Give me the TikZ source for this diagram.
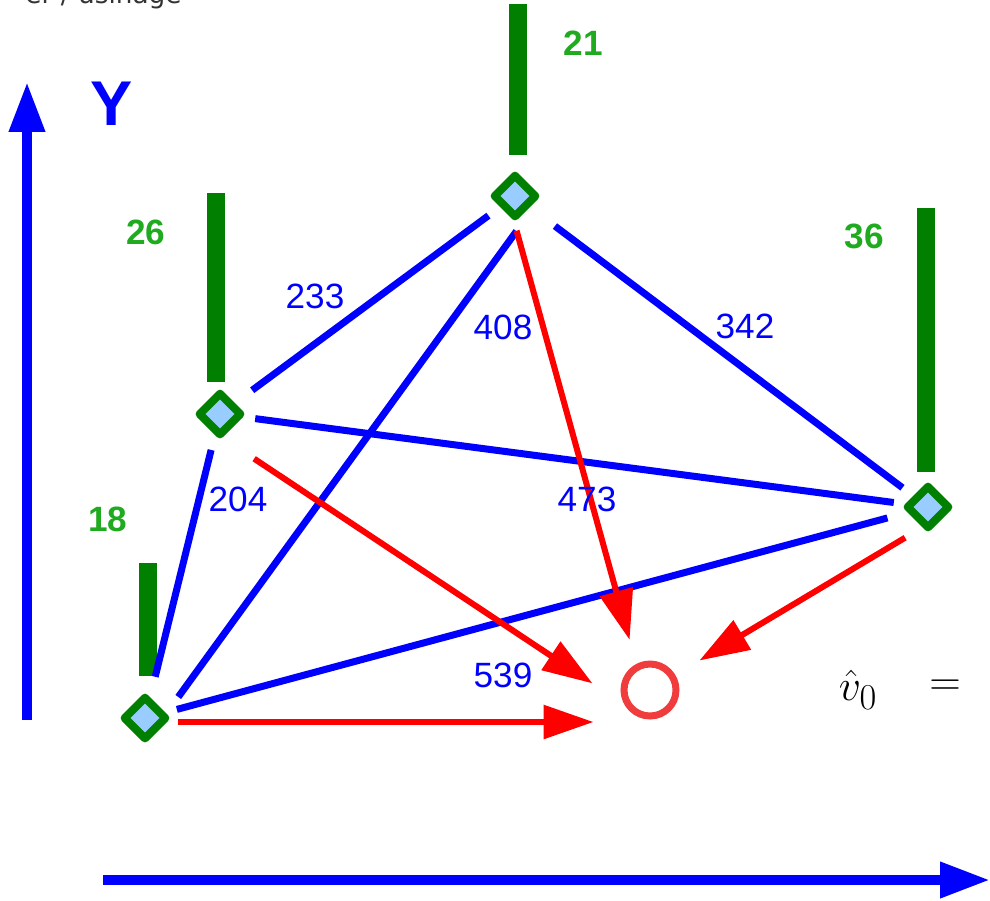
\documentclass[tikz,border=0pt]{standalone}
\usepackage{fontspec}
\setmainfont{Liberation Sans}
\newfontfamily\topfont{DejaVu Sans}
\usetikzlibrary{arrows.meta,shapes.geometric,calc}
\definecolor{eblue}{HTML}{0000FF}
\definecolor{gcol}{HTML}{007F00}
\definecolor{lgreen}{HTML}{1FAA1F}
\definecolor{lblue}{HTML}{99CCFF}
\definecolor{tred}{HTML}{F03C3C}
\definecolor{rline}{HTML}{FF0000}
\begin{document}
\begin{tikzpicture}[x=0.02cm,y=-0.02cm,
  vtx/.style={diamond, draw=gcol, fill=lblue, line width=0.16cm, minimum width=0.88cm, minimum height=0.88cm, inner sep=0pt, line join=round},
  link/.style={draw=eblue, line width=0.14cm},
  redarr/.style={draw=rline, line width=0.12cm, -{Triangle[length=1.0cm,width=0.66cm]}},
  axis/.style={draw=eblue, line width=0.2cm, -{Triangle[length=1.0cm,width=0.68cm]}},
  num/.style={text=eblue, font=\fontsize{20}{24}\selectfont},
  wt/.style={text=lgreen, font=\bfseries\fontsize{20}{24}\selectfont},
  wbar/.style={fill=gcol}
]
\useasboundingbox (0,0) rectangle (990,900);
% partial caption at top (cut off by the top edge, as in the reference)
\node[anchor=base east, text=black!80, font=\topfont\fontsize{15}{18}\selectfont, inner sep=0pt] (cap) at (182,3) {er / usinage};
% axes
\coordinate (yb) at (27,720);
\coordinate (yt) at (27,82);
\draw[axis] (yb) -- (yt);
\node[text=eblue, font=\bfseries\fontsize{36}{42}\selectfont] (ylab) at (112,104) {Y};
\coordinate (xl) at (103,880);
\coordinate (xr) at (990,880);
\draw[axis] (xl) -- (xr);
% weight bars
\fill[wbar] (139,563) rectangle (157,676);
\fill[wbar] (207,193) rectangle (225,382);
\fill[wbar] (509,4) rectangle (527,155);
\fill[wbar] (917,208) rectangle (935,472);
% weights
\node[wt] (w18) at (108,519) {18};
\node[wt] (w26) at (146,232) {26};
\node[wt] (w21) at (583,43) {21};
\node[wt] (w36) at (864,236) {36};
% target
\node[circle, draw=tred, line width=0.14cm, minimum size=1.04cm, inner sep=0pt] (T) at (650,690) {};
% vertices
\node[vtx] (A) at (145,718) {};
\node[vtx] (B) at (220,414) {};
\node[vtx] (C) at (515,196) {};
\node[vtx] (D) at (928,507) {};
% blue edges
\draw[link, shorten <=0.85cm, shorten >=0.74cm] (A.center) -- (B.center);
\coordinate (a3) at ($(A.center)+(18,0)$);
\coordinate (c3) at ($(C.center)+(27,0)$);
\draw[link, shorten <=0.52cm, shorten >=0.87cm] (a3) -- (c3);
\draw[link, shorten <=0.66cm, shorten >=0.84cm] (A.center) -- (D.center);
\draw[link, shorten <=0.80cm, shorten >=0.66cm] (B.center) -- (C.center);
\draw[link, shorten <=0.71cm, shorten >=0.69cm] (B.center) -- (D.center);
\draw[link, shorten <=1.00cm, shorten >=0.64cm] (C.center) -- (D.center);
% red arrows
\coordinate (a2) at ($(A.center)+(0,4)$);
\draw[redarr, shorten <=0.66cm, shorten >=0.54cm] (a2) -- (a2 -| T.west);
\coordinate (b2) at ($(B.center)+(0,22)$);
\coordinate (tb) at ($(T.center)+(-40,5)$);
\draw[redarr, shorten <=0.82cm, shorten >=0.42cm] (b2) -- (tb);
\coordinate (c2) at ($(C.center)+(-8,0)$);
\coordinate (tc) at ($(T.center)+(-14,-27)$);
\draw[redarr, shorten <=0.72cm, shorten >=0.48cm] (c2) -- (tc);
\coordinate (d2) at ($(D.center)+(-10,23)$);
\draw[redarr, shorten <=0.30cm, shorten >=1.15cm] (d2) -- (T.center);
% edge labels
\node[num] (l204) at (238,499) {204};
\node[num] (l408) at (503,327) {408};
\node[num] (l539) at (503,675) {539};
\node[num] (l233) at (315,296) {233};
\node[num] (l473) at (587,499) {473};
\node[num] (l342) at (745,326) {342};
% formula fragment
\node[font=\fontsize{28}{32}\selectfont] (v0) at (858,690) {$\hat v_0$};
\node[font=\fontsize{28}{32}\selectfont] (eq) at (945,688) {$=$};
\end{tikzpicture}
\end{document}
